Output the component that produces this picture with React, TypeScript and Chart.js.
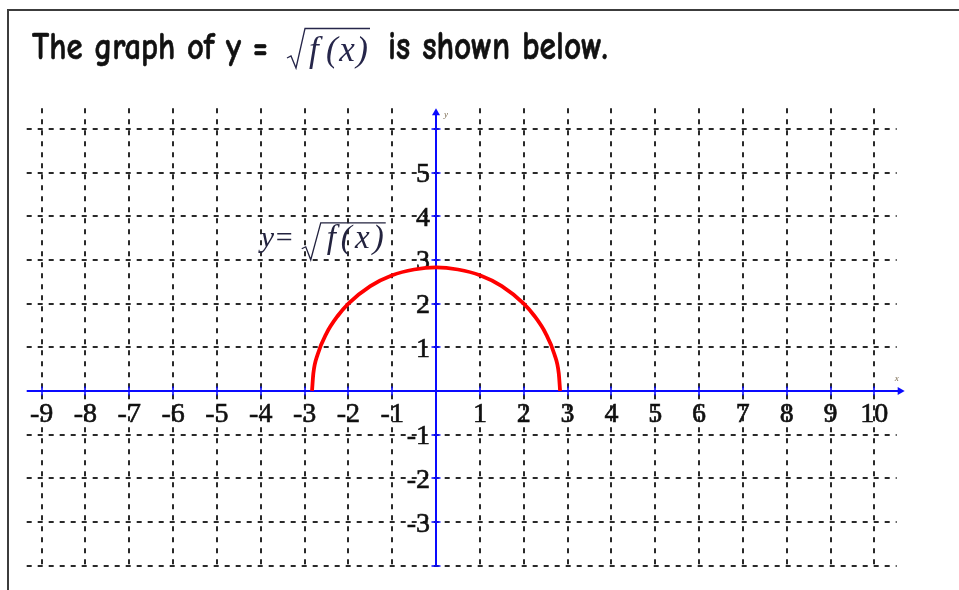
import React, { useEffect, useRef } from "react";
import { Chart, registerables } from "chart.js";

Chart.register(...registerables);

// ---- data ----
const gridXValues = [-9, -8, -7, -6, -5, -4, -3, -2, -1, 0, 1, 2, 3, 4, 5, 6, 7, 8, 9, 10];
const gridYValues = [-4, -3, -2, -1, 0, 1, 2, 3, 4, 5, 6];
const xTickLabels = ["-9", "-8", "-7", "-6", "-5", "-4", "-3", "-2", "-1", "1", "2", "3", "4", "5", "6", "7", "8", "9", "10"];
const xTickValues = [-9, -8, -7, -6, -5, -4, -3, -2, -1, 1, 2, 3, 4, 5, 6, 7, 8, 9, 10];
const yTickLabels = ["5", "4", "3", "2", "1", "-1", "-2", "-3"];
const yTickValues = [5, 4, 3, 2, 1, -1, -2, -3];
const curveX = [-2.83, -2.8, -2.7, -2.5, -2.25, -2, -1.5, -1, -0.5, 0, 0.5, 1, 1.5, 2, 2.25, 2.5, 2.7, 2.8, 2.83];
const curveY = [0, 0.4, 0.84, 1.32, 1.71, 2, 2.4, 2.65, 2.78, 2.83, 2.78, 2.65, 2.4, 2, 1.71, 1.32, 0.84, 0.4, 0];
const xRange = [-9.34, 10.51];
const yRange = [-4, 6.47];
const titleLeft = "The graph of y =";
const titleRight = "is shown below.";
const fName = "f";
const fArg = "(x)";

const SERIF = '"Liberation Serif", "Times New Roman", serif';
const TITLE_FONT = '"Comic Sans MS", "Comic Neue", "Open Sans", sans-serif';

function fitSize(ctx: CanvasRenderingContext2D, text: string, weight: string, family: string, target: number, base: number) {
  ctx.font = `${weight} ${base}px ${family}`;
  const w = ctx.measureText(text).width;
  return (base * target) / w;
}

function drawSpaced(ctx: CanvasRenderingContext2D, text: string, x: number, y: number, target: number) {
  const chars = text.split("");
  const widths = chars.map((c) => ctx.measureText(c).width);
  const total = widths.reduce((a, b) => a + b, 0);
  const gap = chars.length > 1 ? (target - total) / (chars.length - 1) : 0;
  let cx = x;
  ctx.textAlign = "left";
  chars.forEach((c, i) => {
    ctx.fillText(c, cx, y);
    cx += widths[i] + gap;
  });
}

function drawRadical(ctx: CanvasRenderingContext2D, x0: number, yHook: number, yBottom: number, yTop: number, xTopStart: number, xEnd: number) {
  ctx.beginPath();
  ctx.moveTo(x0, yHook + 1);
  ctx.lineTo(x0 + 4, yHook - 1);
  ctx.lineTo(x0 + 9, yBottom);
  ctx.lineTo(xTopStart, yTop);
  ctx.lineTo(xEnd, yTop);
  ctx.stroke();
}

function boldText(ctx: CanvasRenderingContext2D, text: string, x: number, y: number) {
  ctx.fillText(text, x, y);
  ctx.strokeText(text, x, y);
}

const decorPlugin = {
  id: "decor",
  beforeDatasetsDraw(chart: any) {
    const { ctx, chartArea, scales } = chart;
    const xs = scales.x;
    const ys = scales.y;
    const x0 = Math.round(xs.getPixelForValue(0));
    const y0 = Math.round(ys.getPixelForValue(0));
    ctx.save();

    // frame
    ctx.strokeStyle = "#3c3c3c";
    ctx.lineWidth = 2;
    ctx.beginPath();
    ctx.moveTo(8, 590);
    ctx.lineTo(8, 10);
    ctx.lineTo(960, 10);
    ctx.stroke();

    // dashed grid
    ctx.strokeStyle = "#2a2a2a";
    ctx.lineWidth = 2;
    ctx.setLineDash([5, 6]);
    gridXValues.forEach((v) => {
      if (v === 0) return;
      const px = Math.round(xs.getPixelForValue(v));
      ctx.beginPath();
      ctx.moveTo(px, chartArea.top);
      ctx.lineTo(px, chartArea.bottom);
      ctx.stroke();
    });
    gridYValues.forEach((v) => {
      if (v === 0) return;
      const py = Math.round(ys.getPixelForValue(v));
      ctx.beginPath();
      ctx.moveTo(chartArea.left, py);
      ctx.lineTo(chartArea.right, py);
      ctx.stroke();
    });
    ctx.setLineDash([]);

    // axes
    ctx.strokeStyle = "#0a0aff";
    ctx.fillStyle = "#0a0aff";
    ctx.lineWidth = 2;
    ctx.beginPath();
    ctx.moveTo(chartArea.left, y0);
    ctx.lineTo(chartArea.right + 3, y0);
    ctx.moveTo(x0, chartArea.bottom);
    ctx.lineTo(x0, chartArea.top + 5);
    ctx.stroke();
    // arrow heads
    ctx.beginPath();
    ctx.moveTo(chartArea.right + 8, y0);
    ctx.lineTo(chartArea.right + 1, y0 - 4);
    ctx.lineTo(chartArea.right + 1, y0 + 4);
    ctx.closePath();
    ctx.fill();
    ctx.beginPath();
    ctx.moveTo(x0, chartArea.top);
    ctx.lineTo(x0 - 4, chartArea.top + 7);
    ctx.lineTo(x0 + 4, chartArea.top + 7);
    ctx.closePath();
    ctx.fill();
    // tick marks
    ctx.lineWidth = 1.5;
    ctx.beginPath();
    gridXValues.forEach((v) => {
      if (v === 0) return;
      const px = Math.round(xs.getPixelForValue(v));
      ctx.moveTo(px, y0 - 4.5);
      ctx.lineTo(px, y0 + 4.5);
    });
    gridYValues.forEach((v) => {
      if (v === 0) return;
      const py = Math.round(ys.getPixelForValue(v));
      ctx.moveTo(x0 - 4.5, py);
      ctx.lineTo(x0 + 4.5, py);
    });
    ctx.stroke();

    // tick labels
    ctx.fillStyle = "#111";
    ctx.strokeStyle = "#111";
    ctx.lineWidth = 0.6;
    ctx.font = `28px ${SERIF}`;
    ctx.textBaseline = "alphabetic";
    ctx.textAlign = "center";
    xTickValues.forEach((v, i) => {
      boldText(ctx, xTickLabels[i], xs.getPixelForValue(v), y0 + 31);
    });
    ctx.textAlign = "right";
    yTickValues.forEach((v, i) => {
      boldText(ctx, yTickLabels[i], x0 - 6, ys.getPixelForValue(v) + 9.5);
    });

    // tiny axis names
    ctx.fillStyle = "#7a6a50";
    ctx.font = `italic 9px ${SERIF}`;
    ctx.textAlign = "left";
    ctx.fillText("y", x0 + 8, chartArea.top + 9);
    ctx.fillText("x", chartArea.right - 2, y0 - 10);

    // annotation y = sqrt(f(x))
    const ax = xs.getPixelForValue(-4.0);
    const ay = ys.getPixelForValue(3.3);
    ctx.fillStyle = "#23233f";
    ctx.strokeStyle = "#23233f";
    ctx.font = `italic 30px ${SERIF}`;
    ctx.fillText("y", ax, ay);
    ctx.font = `30px ${SERIF}`;
    ctx.fillText("=", ax + 15, ay);
    ctx.lineWidth = 1.3;
    drawRadical(ctx, ax + 41, ay + 1, ay + 13, ay - 24, ax + 60, ax + 125);
    ctx.font = `italic 33px ${SERIF}`;
    ctx.fillText(fName, ax + 66, ay + 1);
    drawSpaced(ctx, fArg, ax + 80, ay + 1, 43);

    ctx.restore();
  },
  afterDraw(chart: any) {
    const { ctx } = chart;
    ctx.save();
    // title
    ctx.fillStyle = "#111";
    ctx.strokeStyle = "#111";
    ctx.lineWidth = 0.5;
    ctx.textBaseline = "alphabetic";
    ctx.textAlign = "left";
    const s1 = fitSize(ctx, titleLeft, "600", TITLE_FONT, 236, 26);
    ctx.save();
    ctx.translate(32, 58.5);
    ctx.scale(1, 1.18);
    ctx.font = `600 ${s1}px ${TITLE_FONT}`;
    boldText(ctx, titleLeft, 0, 0);
    ctx.restore();
    const s2 = fitSize(ctx, titleRight, "600", TITLE_FONT, 220, 26);
    ctx.save();
    ctx.translate(388, 58.5);
    ctx.scale(1, 1.18);
    ctx.font = `600 ${s2}px ${TITLE_FONT}`;
    boldText(ctx, titleRight, 0, 0);
    ctx.restore();
    // sqrt f(x) in title
    ctx.strokeStyle = "#26264a";
    ctx.fillStyle = "#26264a";
    ctx.lineWidth = 1.3;
    drawRadical(ctx, 287, 57, 68, 28.5, 305, 370);
    ctx.font = `italic 35px ${SERIF}`;
    ctx.fillText(fName, 309, 61);
    drawSpaced(ctx, fArg, 326, 61, 42);
    ctx.restore();
  },
};

export default function App() {
  const canvasRef = useRef<HTMLCanvasElement | null>(null);

  useEffect(() => {
    if (!canvasRef.current) return;
    const points = curveX.map((x, i) => ({ x, y: curveY[i] }));
    const chart = new Chart(canvasRef.current, {
      type: "scatter",
      data: {
        datasets: [
          {
            data: points,
            showLine: true,
            borderColor: "#ff0000",
            backgroundColor: "#ff0000",
            borderWidth: 3.8,
            pointRadius: 0,
            cubicInterpolationMode: "monotone",
            fill: false,
          },
        ],
      },
      options: {
        responsive: false,
        animation: false,
        events: [],
        layout: {
          padding: { left: 26.7, top: 108.3, right: 959 - 896.7, bottom: 590 - 565.7 },
        },
        plugins: {
          legend: { display: false },
          tooltip: { enabled: false },
        },
        scales: {
          x: { type: "linear", min: xRange[0], max: xRange[1], display: false },
          y: { type: "linear", min: yRange[0], max: yRange[1], display: false },
        },
      },
      plugins: [decorPlugin],
    } as any);
    return () => chart.destroy();
  }, []);

  return (
    <div style={{ position: "absolute", left: 0, top: 0, width: 959, height: 590, background: "#fff" }}>
      <canvas ref={canvasRef} width={959} height={590} style={{ display: "block" }} />
    </div>
  );
}
